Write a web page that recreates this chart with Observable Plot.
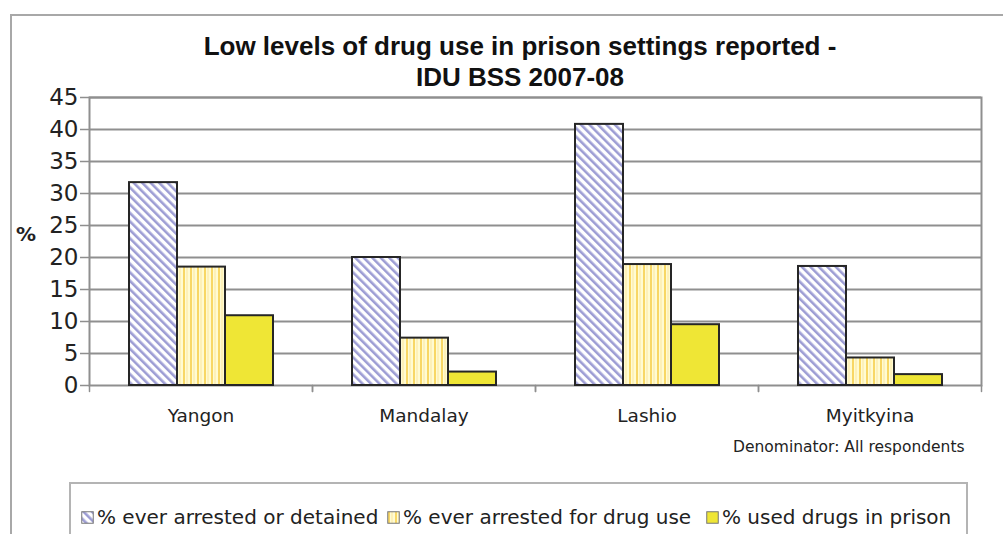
<!DOCTYPE html>
<html>
<head>
<meta charset="utf-8">
<script src="https://cdn.jsdelivr.net/npm/d3@7"></script>
<script src="https://cdn.jsdelivr.net/npm/@observablehq/plot@0.6"></script>
<style>
  html, body { margin: 0; padding: 0; background: #fff; }
  #page { position: relative; width: 1003px; height: 534px; overflow: hidden; background: #fff; }
  #outer { position: absolute; left: 10px; top: 14px; width: 1000px; height: 600px;
           border-left: 2px solid #a8a8a8; border-top: 2px solid #a8a8a8; }
  #chart { position: absolute; left: 0; top: 0; }
  #title { position: absolute; left: 37px; width: 966px; top: 31px; text-align: center;
           font-family: "Liberation Sans", Arial, sans-serif; font-weight: bold; font-size: 26px;
           line-height: 31px; color: #111; }
  #ylab { position: absolute; left: 16px; top: 222px; font-family: "DejaVu Sans", sans-serif;
          font-weight: bold; font-size: 20px; color: #222; }
  #note { position: absolute; left: 733px; top: 438px; font-family: "DejaVu Sans", sans-serif;
          font-size: 15.5px; color: #222; }
  #legend { position: absolute; left: 69px; top: 482px; width: 899px; height: 70px;
            border: 2px solid #b4b4b4; box-sizing: border-box;
            font-family: "DejaVu Sans", sans-serif; font-size: 20px; color: #222; }
  #legend .item { position: absolute; top: 21px; display: flex; align-items: center; white-space: nowrap; }
  #legend svg { margin-right: 3px; }
</style>
</head>
<body>
<div id="page">
  <div id="outer"></div>
  <div id="chart"></div>
  <div id="title">Low levels of drug use in prison settings reported -<br>IDU BSS 2007-08</div>
  <div id="ylab">%</div>
  <div id="note">Denominator: All respondents</div>
  <div id="legend"></div>
</div>
<script>
// Survey sites and indicator series
const categories = ["Yangon", "Mandalay", "Lashio", "Myitkyina"];
const series = ["% ever arrested or detained", "% ever arrested for drug use", "% used drugs in prison"];
// Percent of respondents, one value per site
const everArrested = [31.7, 20.0, 40.8, 18.6];
const arrestedForDrugUse = [18.5, 7.4, 18.9, 4.3];
const usedDrugsInPrison = [10.9, 2.1, 9.5, 1.7];
const yTicks = [0, 5, 10, 15, 20, 25, 30, 35, 40, 45];

const fills = ["url(#hatchBlue)", "url(#stripeYellow)", "#efe635"];

const rows = [];
[everArrested, arrestedForDrugUse, usedDrugsInPrison].forEach((vals, si) => {
  vals.forEach((v, ci) => rows.push({category: categories[ci], series: series[si], value: v}));
});

const patternDefs = `
  <pattern id="hatchBlue" patternUnits="userSpaceOnUse" width="6" height="6" patternTransform="rotate(-45)">
    <rect width="6" height="6" fill="#ffffff"/>
    <rect x="0" y="0" width="2.6" height="6" fill="#9d9dd4"/>
  </pattern>
  <pattern id="stripeYellow" patternUnits="userSpaceOnUse" width="7" height="7">
    <rect width="7" height="7" fill="#fffbd2"/>
    <rect x="1" y="0" width="2" height="7" fill="#f8d765"/>
    <rect x="4.5" y="0" width="1" height="7" fill="#fbe8a0"/>
  </pattern>`;

// Short downward tick drawn at each site boundary below the baseline
const tickShape = {draw(context, l) { context.moveTo(0, 0); context.lineTo(0, -l); }};

const chart = Plot.plot({
  width: 1003,
  height: 534,
  marginLeft: 89,
  marginRight: 22,
  marginTop: 97,
  marginBottom: 149,
  style: {background: "transparent", overflow: "visible"},
  fx: {domain: categories, padding: 0, label: null},
  x: {domain: series, paddingInner: 0, paddingOuter: 0.776, axis: null},
  y: {domain: [0, 45], label: null},
  color: {type: "ordinal", domain: series, range: fills},
  marks: [
    Plot.gridY(yTicks.slice(1), {stroke: "#8f8f8f", strokeOpacity: 1, strokeWidth: 2}),
    Plot.frame({facet: "super", stroke: "#8f8f8f", strokeWidth: 2}),
    Plot.vector([0], {frameAnchor: "bottom-left", anchor: "start", rotate: 180, length: 6,
                      shape: tickShape, stroke: "#8f8f8f", strokeWidth: 1.5}),
    Plot.vector([0], {frameAnchor: "bottom-right", anchor: "start", rotate: 180, length: 6,
                      shape: tickShape, stroke: "#8f8f8f", strokeWidth: 1.5}),
    Plot.axisY({ticks: yTicks, tickSize: 9, tickPadding: 2, stroke: "#8f8f8f", strokeWidth: 1.5,
                fontSize: 23, fontFamily: "DejaVu Sans", color: "#222", label: null}),
    Plot.axisFx({anchor: "bottom", tickSize: 0, tickPadding: 23, fontSize: 18.5,
                 fontFamily: "DejaVu Sans", color: "#222", label: null}),
    Plot.barY(rows, {fx: "category", x: "series", y: "value", fill: "series",
                     stroke: "#262626", strokeWidth: 2})
  ]
});

d3.select(chart).insert("defs", ":first-child").html(patternDefs);
chart.querySelectorAll("text").forEach(t => t.style.fill = "#222");
document.getElementById("chart").appendChild(chart);

// Legend swatches reuse the same fills as the bars
const legend = document.getElementById("legend");
const itemLeft = [10, 316, 635];
series.forEach((s, i) => {
  const item = document.createElement("div");
  item.className = "item";
  item.style.left = itemLeft[i] + "px";
  item.innerHTML = `<svg width="13" height="13"><defs>${patternDefs.replaceAll('id="', 'id="lg' + i)}</defs>
    <rect x="0.75" y="0.75" width="11.5" height="11.5" fill="${fills[i].replace('#hatch', '#lg' + i + 'hatch').replace('#stripe', '#lg' + i + 'stripe')}" stroke="#777" stroke-width="1"/></svg><span>${s}</span>`;
  legend.appendChild(item);
});
</script>
</body>
</html>
